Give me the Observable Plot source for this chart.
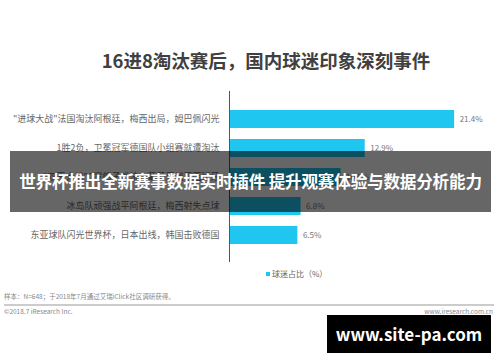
<!DOCTYPE html>
<html>
<head>
<meta charset="utf-8">
<script src="https://cdn.jsdelivr.net/npm/d3@7"></script>
<script src="https://cdn.jsdelivr.net/npm/@observablehq/plot@0.6"></script>
<style>
  html, body { margin: 0; padding: 0; background: #fff; }
  body { width: 500px; height: 362px; overflow: hidden; font-family: "Noto Sans CJK SC", "Noto Sans", sans-serif; }
  #wrap { position: relative; width: 500px; height: 362px; }
  .abs { position: absolute; white-space: nowrap; }
  #title { left: 0; width: 532px; top: 47px; text-align: center; font-size: 18.5px; font-weight: bold; color: #404040; }
  #chart { left: 0; top: 90px; }
  #legend { left: 266px; top: 267px; font-size: 8px; color: #666; line-height: 14px; }
  #legend span.sw { display: inline-block; width: 4px; height: 4px; background: #1fc6ef; margin-right: 2px; vertical-align: 1px; }
  #note { left: 4px; top: 291px; font-size: 6.5px; color: #888; }
  #rule { left: 4px; top: 304px; width: 490px; height: 1.5px; background: #ccc; }
  #copy { left: 4px; top: 306px; font-size: 6.5px; color: #888; }
  #site { right: 7px; top: 306px; font-size: 6.5px; color: #888; }
  #banner { left: 10px; top: 151px; width: 481px; height: 61px; background: rgba(0,0,0,0.6); color: #fff; font-weight: bold; font-size: 16.6px; letter-spacing: -0.2px; line-height: 61px; text-align: center; overflow: hidden; }
  #wm { left: 327px; top: 315px; width: 164px; height: 38px; background: #000; color: #fff; font-weight: bold; font-size: 17px; line-height: 38px; text-align: center; }
</style>
</head>
<body>
<div id="wrap">
  <div id="title" class="abs"></div>
  <div id="chart" class="abs"></div>
  <div id="legend" class="abs"><span class="sw"></span><span id="legendText"></span></div>
  <div id="note" class="abs"></div>
  <div id="rule" class="abs"></div>
  <div id="copy" class="abs"></div>
  <div id="site" class="abs"></div>
  <div id="banner" class="abs"></div>
  <div id="wm" class="abs"></div>
</div>
<script>
const titleText = "16进8淘汰赛后，国内球迷印象深刻事件";
const events = [
  "\"进球大战\"法国淘汰阿根廷，梅西出局，姆巴佩闪光",
  "1胜2负，卫冕冠军德国队小组赛就遭淘汰",
  "\"双王大战\"C罗帽子戏法，葡萄牙战平西班牙",
  "冰岛队顽强战平阿根廷，梅西射失点球",
  "东亚球队闪光世界杯，日本出线，韩国击败德国"
];
const shares = [21.4, 12.9, 10.6, 6.8, 6.5];
const seriesName = "球迷占比（%）";
const noteText = "样本：N=648；于2018年7月通过艾瑞iClick社区调研获得。";
const copyText = "©2018.7 iResearch Inc.";
const siteText = "www.iresearch.com.cn";
const bannerText = "世界杯推出全新赛事数据实时插件 提升观赛体验与数据分析能力";
const watermarkText = "www.site-pa.com";

const data = events.map((e, i) => ({event: e, share: shares[i]}));

document.getElementById("title").textContent = titleText;
document.getElementById("legendText").textContent = seriesName;
document.getElementById("note").textContent = noteText;
document.getElementById("copy").textContent = copyText;
document.getElementById("site").textContent = siteText;
document.getElementById("banner").textContent = bannerText;
document.getElementById("wm").textContent = watermarkText;

const chart = Plot.plot({
  width: 500,
  height: 175,
  marginLeft: 229,
  marginRight: 8,
  marginTop: 7,
  marginBottom: 9,
  style: {fontFamily: "'Noto Sans CJK SC', sans-serif", background: "transparent", overflow: "visible"},
  x: {domain: [0, 25], axis: null},
  y: {domain: events, padding: 0.38, label: null, tickSize: 0, tickPadding: 10},
  marks: [
    Plot.barX(data, {x: "share", y: "event", fill: "#1fc6ef"}),
    Plot.ruleX([0], {stroke: "#555", strokeWidth: 1, insetTop: -6, insetBottom: -6}),
    Plot.axisY({tickSize: 0, tickPadding: 10, fontSize: 9, color: "#666", label: null}),
    Plot.text(data, {x: "share", y: "event", text: d => d.share.toFixed(1) + "%", textAnchor: "start", dx: 5, fontSize: 8, fill: "#777"})
  ]
});
document.getElementById("chart").appendChild(chart);
</script>
</body>
</html>
